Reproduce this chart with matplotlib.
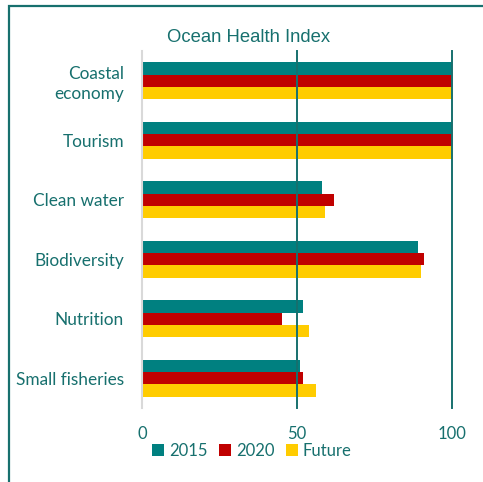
import matplotlib.pyplot as plt
from matplotlib.patches import Rectangle
import numpy as np

categorias = ["Coastal\neconomy", "Tourism", "Clean water", "Biodiversity",
              "Nutrition", "Small fisheries"]
v2015 = [100, 100, 58, 89, 52, 51]
v2020 = [100, 100, 62, 91, 45, 52]
vfuture = [100, 100, 59, 90, 54, 56]

TEXTO = "#17706e"
COLORES = {"2015": "#008080", "2020": "#c00000", "Future": "#ffcc00"}

fig = plt.figure(figsize=(4.83, 4.82), dpi=100)
ax = fig.add_axes([142 / 483, 1 - 408 / 482, (452 - 142) / 483, (408 - 51) / 482])

y = np.arange(len(categorias))
h = 0.207
series = [("2015", v2015, -h), ("2020", v2020, 0.0), ("Future", vfuture, h)]
for nombre, vals, off in series:
    ax.barh(y + off, vals, height=h, color=COLORES[nombre], label=nombre, zorder=2)

ax.set_xlim(0, 100)
ax.set_ylim(len(categorias) - 0.5, -0.5)
ax.set_yticks(y)
ax.set_yticklabels(categorias, fontsize=12.4, color=TEXTO, family="Lato",
                   linespacing=1.3)
ax.set_xticks([0, 50, 100])
ax.set_xticklabels(["0", "50", "100"], fontsize=12, color=TEXTO, family="Lato")
ax.tick_params(axis="both", length=0)
ax.tick_params(axis="x", pad=13)
ax.tick_params(axis="y", pad=13)

for s in ["top", "right", "bottom"]:
    ax.spines[s].set_visible(False)
ax.spines["left"].set_color("#d9d9d9")
ax.spines["left"].set_linewidth(1.5)
for xv in [50, 100]:
    ax.axvline(xv, color="#17706e", linewidth=1.4, zorder=3, clip_on=False)

fig.text(249 / 483, 1 - 37 / 482, "Ocean Health Index", ha="center", va="center",
         fontsize=13.3, color=TEXTO, family="Liberation Sans")

fig.legend(loc="center", bbox_to_anchor=(252 / 483, 1 - 451 / 482), ncol=3,
           frameon=False, handlelength=0.7, handleheight=0.7,
           handletextpad=0.3, columnspacing=0.7, labelcolor=TEXTO,
           prop={"family": "Lato", "size": 12})

# marco exterior
fig.patches.append(Rectangle((9 / 483, -0.1), 1.2, 1 - 6 / 482 + 0.1,
                             transform=fig.transFigure, fill=False,
                             edgecolor="#17706e", linewidth=1.6))

fig.savefig("out.png", dpi=100)
